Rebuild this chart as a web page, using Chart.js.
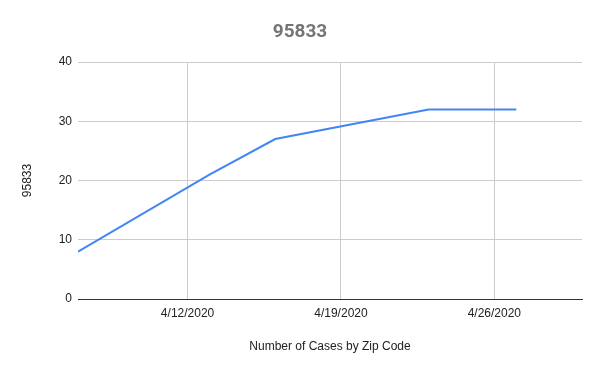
<!DOCTYPE html>
<html>
<head>
<meta charset="utf-8">
<script src="https://cdn.jsdelivr.net/npm/chart.js@4/dist/chart.umd.min.js"></script>
<style>
html,body{margin:0;padding:0;background:#fff;}
#wrap{width:600px;height:371px;}
</style>
</head>
<body>
<div id="wrap"><canvas id="c" width="600" height="371"></canvas></div>
<script>
const dates = ['4/7/2020', '4/13/2020', '4/16/2020', '4/23/2020', '4/27/2020'];
const cases = [8, 21, 27, 32, 32];
const xTickLabels = ['4/12/2020', '4/19/2020', '4/26/2020'];
const yTicks = [0, 10, 20, 30, 40];
const xRange = ['4/7/2020', '4/30/2020'];

function dayOf(s) { return Number(s.split('/')[1]); }

const points = dates.map((d, i) => ({ x: dayOf(d), y: cases[i] }));
const labelFont = { family: '"Liberation Sans", Arial, sans-serif', size: 12 };

const centerTitle = {
  id: 'centerTitle',
  afterLayout(chart) {
    const t = chart.titleBlock;
    if (t) { t.left = 0; t.right = chart.width; t.width = chart.width; }
  }
};

new Chart(document.getElementById('c'), {
  type: 'line',
  data: {
    datasets: [{
      label: '95833',
      data: points,
      borderColor: '#4285f4',
      borderWidth: 2,
      pointRadius: 0,
      tension: 0,
      fill: false
    }]
  },
  plugins: [centerTitle],
  options: {
    responsive: false,
    animation: false,
    layout: { padding: { left: 0, right: 18, top: 0, bottom: 0 } },
    plugins: {
      legend: { display: false },
      tooltip: { enabled: false },
      title: {
        display: true,
        text: '95833',
        color: '#757575',
        font: { family: 'Roboto, "Liberation Sans", sans-serif', size: 19, weight: 'bold' },
        padding: { top: 21, bottom: 18.2 }
      }
    },
    scales: {
      x: {
        type: 'linear',
        min: dayOf(xRange[0]),
        max: dayOf(xRange[1]),
        afterBuildTicks: (s) => { s.ticks = xTickLabels.map(t => ({ value: dayOf(t) })); },
        afterFit: (s) => { s.height = 72; },
        ticks: {
          color: '#222',
          font: labelFont,
          padding: 7,
          maxRotation: 0,
          autoSkip: false,
          callback: (v) => { const t = xTickLabels.find(l => dayOf(l) === v); return t || ''; }
        },
        grid: { color: '#cccccc', drawTicks: false, lineWidth: 1 },
        border: { display: true, color: '#333333', width: 1 },
        title: {
          display: true,
          text: 'Number of Cases by Zip Code',
          color: '#222',
          font: labelFont,
          padding: { top: 0, bottom: 17 }
        }
      },
      y: {
        min: 0,
        max: 40,
        afterBuildTicks: (s) => { s.ticks = yTicks.map(v => ({ value: v })); },
        afterFit: (s) => { s.width = 78; },
        ticks: { color: '#222', font: labelFont, padding: 6 },
        grid: { color: '#cccccc', drawTicks: false, lineWidth: 1 },
        border: { display: false },
        title: {
          display: true,
          text: '95833',
          color: '#222',
          font: labelFont,
          padding: { top: 20, bottom: 0 }
        }
      }
    }
  }
});
</script>
</body>
</html>
